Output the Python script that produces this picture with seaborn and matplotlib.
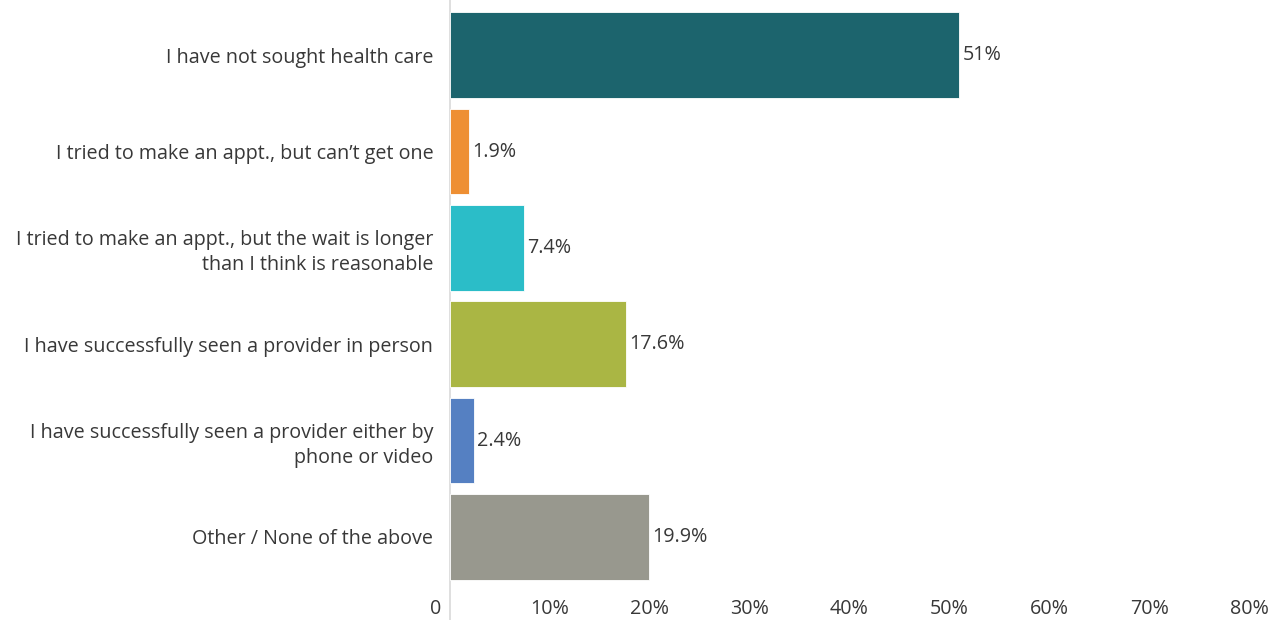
import matplotlib
matplotlib.use("Agg")
import matplotlib.pyplot as plt
import matplotlib.transforms as mtransforms
import seaborn as sns
import pandas as pd

categories = [
    "I have not sought health care",
    "I tried to make an appt., but can\u2019t get one",
    "I tried to make an appt., but the wait is longer\nthan I think is reasonable",
    "I have successfully seen a provider in person",
    "I have successfully seen a provider either by\nphone or video",
    "Other / None of the above",
]
values = [51, 1.9, 7.4, 17.6, 2.4, 19.9]
value_labels = ["51%", "1.9%", "7.4%", "17.6%", "2.4%", "19.9%"]
colors = ["#1C646D", "#EE8F33", "#2BBDC8", "#AAB644", "#5580C2", "#98988E"]
x_ticks = [0, 10, 20, 30, 40, 50, 60, 70, 80]
x_tick_labels = ["0", "10%", "20%", "30%", "40%", "50%", "60%", "70%", "80%"]

sns.set_theme(style="white")
plt.rcParams["font.family"] = ["Open Sans", "DejaVu Sans"]
text_color = "#383838"
fs = 14.2

df = pd.DataFrame({"category": categories, "value": values})

fig = plt.figure(figsize=(12.82, 6.20), dpi=100)
ax = fig.add_axes([450 / 1282, 1 - 585 / 620, (1266 - 450) / 1282, (585 - 7) / 620])

sns.barplot(
    data=df, x="value", y="category", hue="category",
    palette=colors, saturation=1, orient="h", width=0.89, legend=False,
    edgecolor="white", linewidth=0.6, ax=ax,
)

ax.set_xlim(0, 81.7)
ax.set_xticks(x_ticks)
ax.set_xticklabels(x_tick_labels)
ax.set_xlabel("")
ax.set_ylabel("")
for side in ["top", "right", "bottom", "left"]:
    ax.spines[side].set_visible(False)

ax.tick_params(axis="x", length=0, pad=10, labelsize=fs, labelcolor=text_color)
ax.tick_params(axis="y", length=0, pad=12, labelsize=fs, labelcolor=text_color)
for lbl in ax.get_yticklabels():
    lbl.set_linespacing(1.3)

# "0" sits just left of the baseline
zero_lbl = ax.get_xticklabels()[0]
zero_lbl.set_horizontalalignment("right")
zero_lbl.set_transform(zero_lbl.get_transform()
                       + mtransforms.ScaledTranslation(-9 / 100, 0, fig.dpi_scale_trans))

# baseline running the full height
ax.axvline(0, ymin=-0.07, ymax=1.02, color="#D9D9D9", linewidth=1.2, clip_on=False, zorder=0)

for i, (v, lab) in enumerate(zip(values, value_labels)):
    ax.annotate(lab, xy=(v, i), xytext=(2.5, 0), textcoords="offset points",
                ha="left", va="center", fontsize=fs, color=text_color)

fig.savefig("out.png", dpi=100, facecolor="white")
